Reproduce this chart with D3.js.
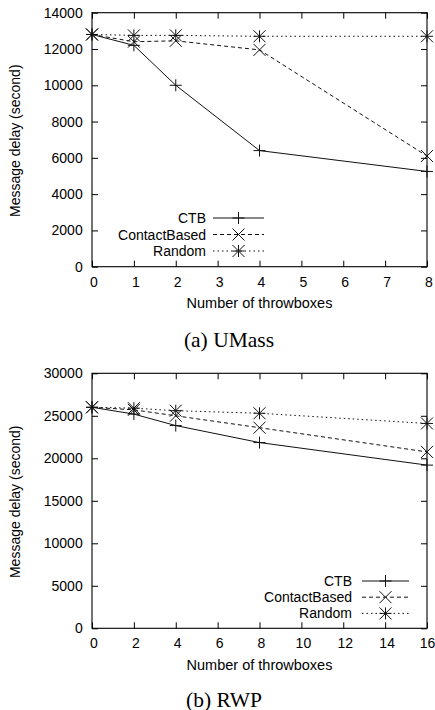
<!DOCTYPE html>
<html><head><meta charset="utf-8">
<script src="https://cdn.jsdelivr.net/npm/d3@7"></script>
<style>html,body{margin:0;padding:0;background:#fff;}svg{display:block;}</style>
</head><body>
<script>
// ---- data ----
const seriesNames = ["CTB", "ContactBased", "Random"];
const umassX = [0, 1, 2, 4, 8];
const umassCTB = [12800, 12200, 10000, 6400, 5250];
const umassContact = [12800, 12400, 12450, 11950, 6100];
const umassRandom = [12800, 12750, 12750, 12700, 12700];
const umassXTicks = [0, 1, 2, 3, 4, 5, 6, 7, 8];
const umassYTicks = [0, 2000, 4000, 6000, 8000, 10000, 12000, 14000];

const rwpX = [0, 2, 4, 8, 16];
const rwpCTB = [26000, 25200, 23850, 21850, 19200];
const rwpContact = [26000, 25700, 25000, 23600, 20750];
const rwpRandom = [26000, 25900, 25600, 25300, 24100];
const rwpXTicks = [0, 2, 4, 6, 8, 10, 12, 14, 16];
const rwpYTicks = [0, 5000, 10000, 15000, 20000, 25000, 30000];

const xTitle = "Number of throwboxes";
const yTitle = "Message delay (second)";
const captions = ["(a) UMass", "(b) RWP"];

// ---- layout ----
const W = 435, H = 710;
const sans = "'Liberation Sans', Arial, Helvetica, sans-serif";
const serif = "'Liberation Serif', 'Times New Roman', serif";
const styles = [
  {dash: null, marker: "plus"},
  {dash: "4,3", marker: "x"},
  {dash: "1.5,3", marker: "star"}
];

const panels = [
  {xs: umassX, ys: [umassCTB, umassContact, umassRandom], xTicks: umassXTicks, yTicks: umassYTicks,
   x0: 92, x1: 427, y0: 12.7, y1: 266.7,
   legend: {textRight: 206, s0: 213, s1: 264, y: 218, dy: 16.5},
   caption: {text: captions[0], x: 229, y: 346.5}},
  {xs: rwpX, ys: [rwpCTB, rwpContact, rwpRandom], xTicks: rwpXTicks, yTicks: rwpYTicks,
   x0: 92, x1: 427, y0: 373.3, y1: 628.3,
   legend: {textRight: 352, s0: 362, s1: 409, y: 581, dy: 16.2},
   caption: {text: captions[1], x: 224, y: 706.5}}
];

const svg = d3.select("body").append("svg").attr("width", W).attr("height", H);

function markerPath(type, s) {
  const p = d3.path();
  if (type === "plus" || type === "star") {
    p.moveTo(-s, 0); p.lineTo(s, 0); p.moveTo(0, -s); p.lineTo(0, s);
  }
  if (type === "x" || type === "star") {
    p.moveTo(-s, -s); p.lineTo(s, s); p.moveTo(-s, s); p.lineTo(s, -s);
  }
  return p.toString();
}

panels.forEach(P => {
  const x = d3.scaleLinear().domain([P.xTicks[0], P.xTicks[P.xTicks.length - 1]]).range([P.x0, P.x1]);
  const y = d3.scaleLinear().domain([P.yTicks[0], P.yTicks[P.yTicks.length - 1]]).range([P.y1, P.y0]);
  const g = svg.append("g");

  const styleAxis = sel => {
    sel.select(".domain").remove();
    sel.selectAll(".tick line").attr("stroke", "#000").attr("stroke-width", 1);
    sel.selectAll("text").attr("font-family", sans).attr("font-size", 14).attr("fill", "#000");
  };

  g.append("g").attr("transform", `translate(${P.x0},0)`)
    .call(d3.axisLeft(y).tickValues(P.yTicks).tickSizeInner(-6).tickSizeOuter(0).tickPadding(9.3).tickFormat(d3.format("d")))
    .call(styleAxis);
  g.append("g").attr("transform", `translate(${P.x1},0)`)
    .call(d3.axisRight(y).tickValues(P.yTicks).tickSizeInner(-6).tickSizeOuter(0).tickFormat(""))
    .call(styleAxis);
  const bx = g.append("g").attr("transform", `translate(0,${P.y1})`)
    .call(d3.axisBottom(x).tickValues(P.xTicks).tickSizeInner(-6).tickSizeOuter(0).tickPadding(10).tickFormat(d3.format("d")))
    .call(styleAxis);
  bx.selectAll(".tick text").attr("dx", (d, i, n) => i === n.length - 1 && d >= 10 ? 0 : 1.5);
  g.append("g").attr("transform", `translate(0,${P.y0})`)
    .call(d3.axisTop(x).tickValues(P.xTicks).tickSizeInner(-6).tickSizeOuter(0).tickFormat(""))
    .call(styleAxis);

  g.append("rect").attr("x", P.x0).attr("y", P.y0).attr("width", P.x1 - P.x0).attr("height", P.y1 - P.y0)
    .attr("fill", "none").attr("stroke", "#000").attr("stroke-width", 1.1);

  // titles
  g.append("text").attr("x", (P.x0 + P.x1) / 2).attr("y", P.y1 + 41.3).attr("text-anchor", "middle")
    .attr("font-family", sans).attr("font-size", 14.5).text(xTitle);
  g.append("text").attr("transform", `translate(19.5,${(P.y0 + P.y1) / 2 + 1}) rotate(-90)`).attr("text-anchor", "middle")
    .attr("font-family", sans).attr("font-size", 14).text(yTitle);

  // series
  P.ys.forEach((vals, i) => {
    const st = styles[i];
    const pts = P.xs.map((xv, j) => [x(xv), y(vals[j])]);
    g.append("path").attr("d", d3.line()(pts)).attr("fill", "none").attr("stroke", "#111")
      .attr("stroke-width", 1).attr("stroke-dasharray", st.dash);
    g.selectAll(null).data(pts).enter().append("path")
      .attr("transform", d => `translate(${d[0]},${d[1]})`)
      .attr("d", markerPath(st.marker, 6)).attr("fill", "none").attr("stroke", "#111").attr("stroke-width", 1);
  });

  // legend
  const L = P.legend;
  seriesNames.forEach((name, i) => {
    const st = styles[i];
    const ly = L.y + i * L.dy;
    g.append("text").attr("x", L.textRight).attr("y", ly).attr("dy", "0.36em").attr("text-anchor", "end")
      .attr("font-family", sans).attr("font-size", 14).text(name);
    g.append("line").attr("x1", L.s0).attr("x2", L.s1).attr("y1", ly).attr("y2", ly)
      .attr("stroke", "#111").attr("stroke-width", 1).attr("stroke-dasharray", st.dash);
    g.append("path").attr("transform", `translate(${(L.s0 + L.s1) / 2},${ly})`)
      .attr("d", markerPath(st.marker, 6)).attr("fill", "none").attr("stroke", "#111").attr("stroke-width", 1);
  });

  svg.append("text").attr("x", P.caption.x).attr("y", P.caption.y).attr("text-anchor", "middle")
    .attr("font-family", serif).attr("font-size", 21.5).attr("fill", "#000").text(P.caption.text);
});
</script>
</body></html>
